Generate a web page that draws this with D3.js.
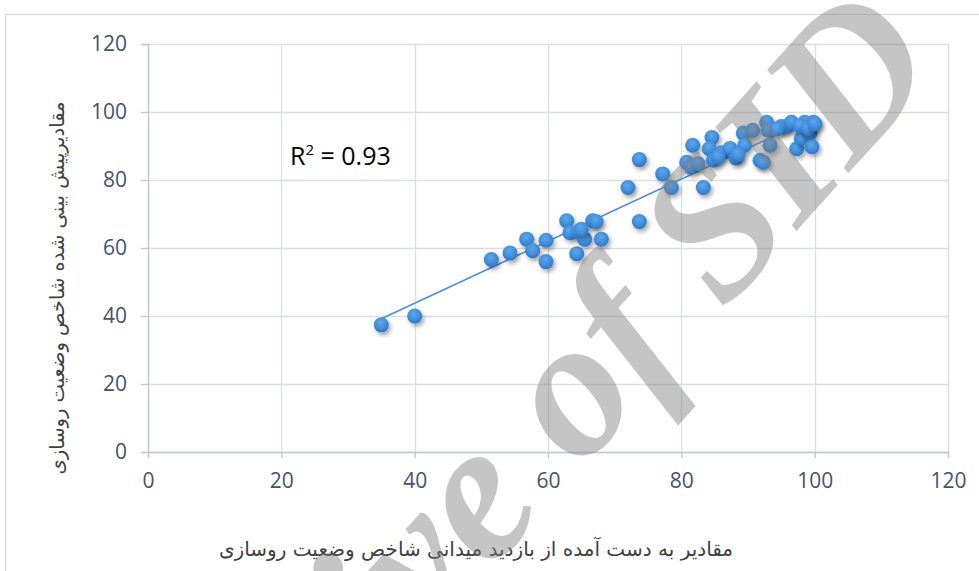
<!DOCTYPE html>
<html lang="fa">
<head>
<meta charset="utf-8"/>
<script src="https://d3js.org/d3.v7.min.js"></script>
<style>
  body { margin: 0; background: #fff; }
  svg { display: block; }
</style>
</head>
<body>
<div id="chart"></div>
<script>
// values
var observed = [35, 40, 51.5, 54.3, 56.8, 57.7, 59.7, 59.7, 62.8, 63.3, 64.5, 64.3, 65.5, 66.7, 67.2, 65.0, 68.0,
                72.0, 73.7, 73.7, 77.2, 78.5, 80.8, 81.7, 81.5, 83.3, 84.6, 84.2, 84.8, 86.0, 87.3, 88.2,
                89.3, 89.5, 90.7, 91.8, 92.3, 92.8, 93.0, 93.3, 95.0, 95.8, 96.5, 97.3, 98.0, 98.5, 99.3,
                99.8, 99.6, 94.3, 88.5, 82.5, 85.5, 97.8, 99.0, 100];
var predicted = [37.4, 40.0, 56.6, 58.5, 62.6, 59.2, 62.3, 56.0, 68.0, 64.5, 64.8, 58.3, 62.6, 68.0, 67.8, 65.5, 62.6,
                 77.8, 86.0, 67.8, 81.8, 77.8, 85.2, 90.2, 83.8, 77.8, 92.5, 89.2, 85.8, 88.0, 89.3, 86.5,
                 93.8, 90.2, 94.6, 85.8, 85.2, 97.0, 94.7, 90.2, 95.7, 95.7, 97.0, 89.2, 92.3, 97.0, 93.8,
                 97.0, 89.8, 95.0, 87.5, 84.8, 86.8, 96.0, 95.2, 96.5];
var xTicks = [0, 20, 40, 60, 80, 100, 120];
var yTicks = [0, 20, 40, 60, 80, 100, 120];
var r2Label = "0.93";
var xTitle = "مقادیر به دست آمده از بازدید میدانی شاخص وضعیت روسازی";
var yTitle = "مقادیرپیش بینی شده شاخص وضعیت روسازی";
var watermark = "Archive of SID";

var W = 979, H = 571;
var margin = {top: 44, right: 31, bottom: 119, left: 148};
var width = W - margin.left - margin.right;
var height = H - margin.top - margin.bottom;

var svg = d3.select("#chart").append("svg")
    .attr("width", W)
    .attr("height", H);

var defs = svg.append("defs");
var grad = defs.append("radialGradient").attr("id", "dot")
    .attr("cx", "45%").attr("cy", "35%").attr("r", "65%");
grad.append("stop").attr("offset", "0%").attr("stop-color", "#60a6e8");
grad.append("stop").attr("offset", "60%").attr("stop-color", "#3f8edd");
grad.append("stop").attr("offset", "100%").attr("stop-color", "#2e75c4");
var shadow = defs.append("filter").attr("id", "shadow")
    .attr("x", "-50%").attr("y", "-50%").attr("width", "200%").attr("height", "200%");
shadow.append("feDropShadow").attr("dx", 2).attr("dy", 3).attr("stdDeviation", 2)
    .attr("flood-color", "#000").attr("flood-opacity", 0.35);

// chart frame
svg.append("rect")
    .attr("x", 5.5).attr("y", 14.5)
    .attr("width", 1000).attr("height", 600)
    .attr("fill", "none").attr("stroke", "#d9d9d9");

var g = svg.append("g")
    .attr("transform", "translate(" + margin.left + "," + margin.top + ")");

var x = d3.scaleLinear().domain([0, 120]).range([0, width]);
var y = d3.scaleLinear().domain([0, 120]).range([height, 0]);

// gridlines
g.append("g").selectAll("line").data(xTicks).enter().append("line")
    .attr("x1", function (d) { return Math.round(x(d)) + 0.5; })
    .attr("x2", function (d) { return Math.round(x(d)) + 0.5; })
    .attr("y1", 0).attr("y2", height)
    .attr("stroke", "#d9dee7").attr("stroke-width", 1.3);
g.append("g").selectAll("line").data(yTicks).enter().append("line")
    .attr("y1", function (d) { return Math.round(y(d)) + 0.5; })
    .attr("y2", function (d) { return Math.round(y(d)) + 0.5; })
    .attr("x1", 0).attr("x2", width)
    .attr("stroke", "#d9dee7").attr("stroke-width", 1.3);

// axes
var xAxis = g.append("g")
    .attr("transform", "translate(0," + height + ")")
    .call(d3.axisBottom(x).tickValues(xTicks).tickSize(6).tickPadding(15));
var yAxis = g.append("g")
    .call(d3.axisLeft(y).tickValues(yTicks).tickSize(7).tickPadding(14));
[xAxis, yAxis].forEach(function (a) {
    a.select(".domain").attr("stroke", "#bfc6d4").attr("stroke-width", 1.3);
    a.selectAll(".tick line").attr("stroke", "#bfc6d4").attr("stroke-width", 1.3);
    a.selectAll("text")
        .attr("fill", "#44546a")
        .style("font-family", "'Open Sans', sans-serif")
        .style("font-size", "21px");
});
xAxis.selectAll("text").attr("dy", "0.71em");

// trend line from least squares
var n = observed.length;
var mx = d3.mean(observed), my = d3.mean(predicted);
var sxy = 0, sxx = 0;
for (var i = 0; i < n; i++) {
    sxy += (observed[i] - mx) * (predicted[i] - my);
    sxx += (observed[i] - mx) * (observed[i] - mx);
}
var slope = sxy / sxx, icpt = my - slope * mx;
var xe = d3.extent(observed);
g.append("line")
    .attr("x1", x(xe[0])).attr("y1", y(icpt + slope * xe[0]))
    .attr("x2", x(xe[1])).attr("y2", y(icpt + slope * xe[1]))
    .attr("stroke", "#4a8fd6").attr("stroke-width", 1.6);

// points
g.append("g").selectAll("circle").data(observed).enter().append("circle")
    .attr("cx", function (d) { return x(d); })
    .attr("cy", function (d, i) { return y(predicted[i]); })
    .attr("r", 7.5)
    .attr("fill", "url(#dot)")
    .attr("filter", "url(#shadow)");

// R squared label
var r2 = svg.append("text")
    .attr("x", 290).attr("y", 165)
    .style("font-family", "'Open Sans', sans-serif")
    .style("font-size", "25px")
    .attr("fill", "#000");
r2.append("tspan").text("R");
r2.append("tspan").attr("dy", -10).style("font-size", "15px").text("2");
r2.append("tspan").attr("dy", 10).text(" = " + r2Label);

// axis titles
svg.append("text")
    .attr("x", 476).attr("y", 556)
    .attr("text-anchor", "middle")
    .attr("direction", "rtl")
    .style("font-family", "'DejaVu Sans', sans-serif")
    .style("font-size", "20px")
    .attr("fill", "#404040")
    .text(xTitle);
svg.append("text")
    .attr("transform", "translate(64,288) rotate(-90)")
    .attr("text-anchor", "middle")
    .attr("direction", "rtl")
    .style("font-family", "'DejaVu Sans', sans-serif")
    .style("font-size", "19.5px")
    .attr("fill", "#404040")
    .text(yTitle);

// watermark on top
svg.append("text")
    .attr("transform", "translate(945,66) rotate(-48)")
    .attr("text-anchor", "end")
    .style("font-family", "'Liberation Serif', serif")
    .style("font-weight", "bold")
    .style("font-style", "italic")
    .style("font-size", "198px")
    .attr("fill", "#7f7f7f")
    .attr("fill-opacity", 0.45)
    .text(watermark);
</script>
</body>
</html>
